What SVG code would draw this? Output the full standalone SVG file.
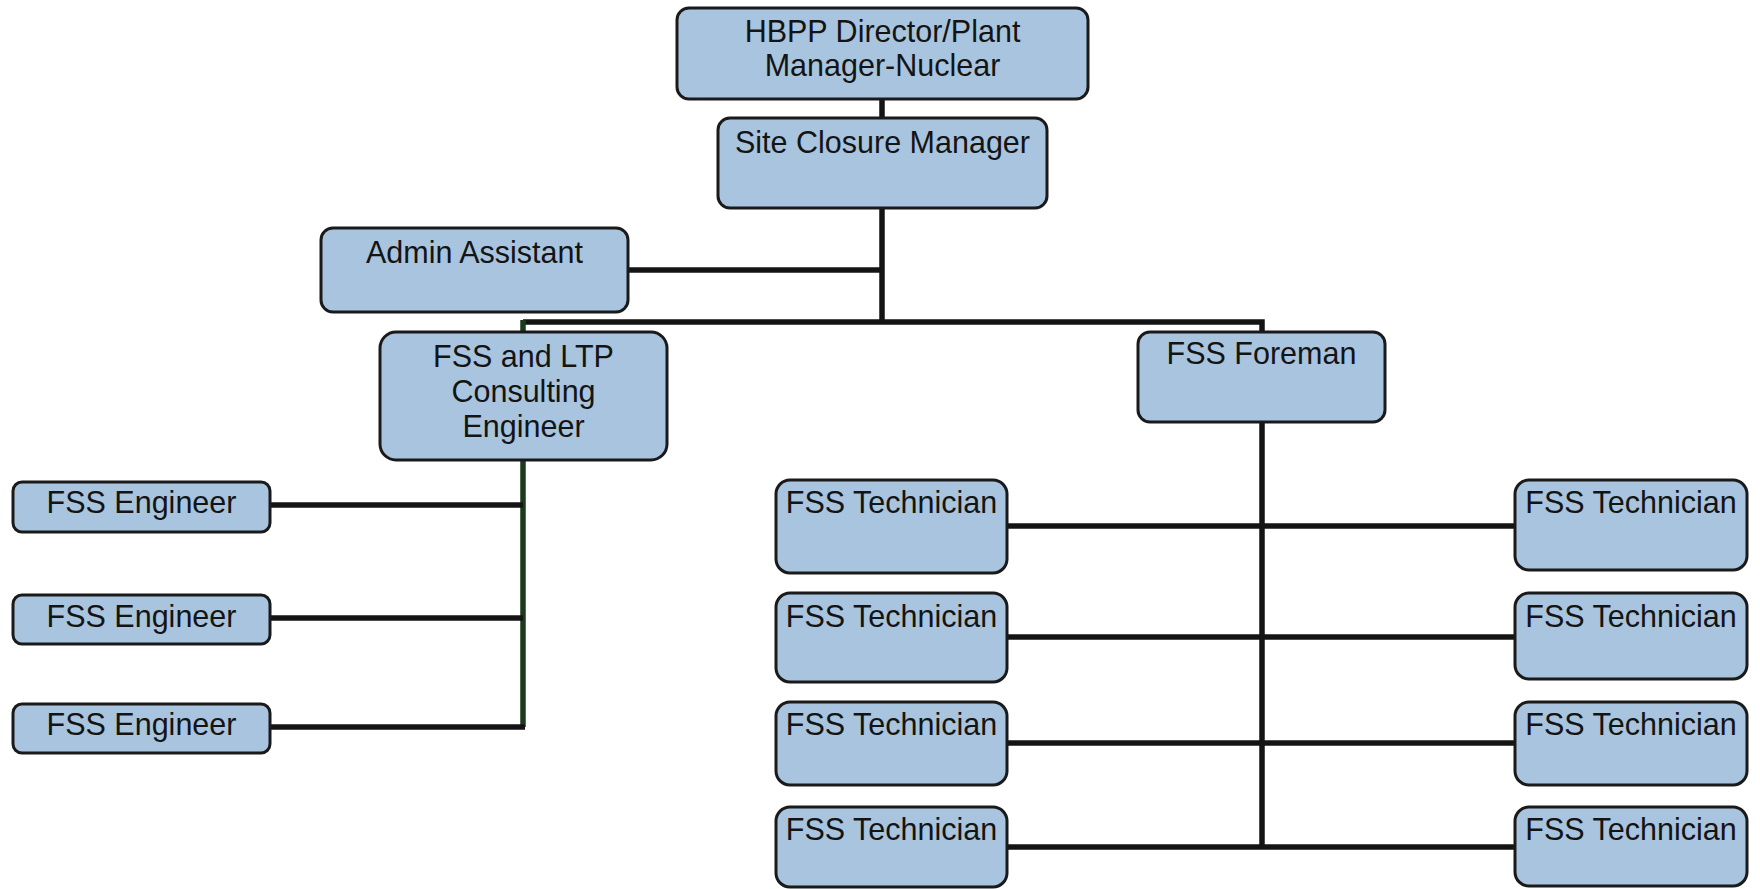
<svg xmlns="http://www.w3.org/2000/svg" width="1760" height="889" viewBox="0 0 1760 889">
<style>
.box{fill:#a8c4de;stroke:#1a1a1a;stroke-width:3}
.t{font-family:"Liberation Sans",Arial,sans-serif;font-size:30.5px;fill:#141414;text-anchor:middle}
.c{fill:none;stroke:#141414;stroke-width:5.5}
.g{fill:none;stroke:#1c3a1c;stroke-width:5.5}
</style>
<rect width="1760" height="889" fill="#ffffff"/>
<g id="connectors">
<line class="c" x1="882" y1="99" x2="882" y2="118"/>
<line class="c" x1="882" y1="208" x2="882" y2="322"/>
<line class="c" x1="628" y1="270" x2="882" y2="270"/>
<polyline class="c" points="523,322 1262,322 1262,332"/>
<line class="g" x1="523" y1="320" x2="523" y2="332"/>
<polyline class="g" points="523,460 523,727"/>
<line class="c" x1="270" y1="505" x2="523" y2="505"/>
<line class="c" x1="270" y1="618" x2="523" y2="618"/>
<line class="c" x1="270" y1="727" x2="525" y2="727"/>
<line class="c" x1="1262" y1="422" x2="1262" y2="849"/>
<line class="c" x1="1007" y1="526" x2="1515" y2="526"/>
<line class="c" x1="1007" y1="637" x2="1515" y2="637"/>
<line class="c" x1="1007" y1="743" x2="1515" y2="743"/>
<line class="c" x1="1007" y1="847" x2="1515" y2="847"/>
</g>
<g id="director"><rect class="box" x="677" y="8" width="411" height="91" rx="12"/><text class="t" x="882.5" y="42">HBPP Director/Plant</text><text class="t" x="882.5" y="76">Manager-Nuclear</text></g>
<g id="site-closure"><rect class="box" x="718" y="118" width="329" height="90" rx="12"/><text class="t" x="882.5" y="153">Site Closure Manager</text></g>
<g id="admin"><rect class="box" x="321" y="228" width="307" height="84" rx="12"/><text class="t" x="474.5" y="263">Admin Assistant</text></g>
<g id="fss-ltp"><rect class="box" x="380" y="332" width="287" height="128" rx="16"/><text class="t" x="523.5" y="367">FSS and LTP</text><text class="t" x="523.5" y="402">Consulting</text><text class="t" x="523.5" y="437">Engineer</text></g>
<g id="foreman"><rect class="box" x="1138" y="332" width="247" height="90" rx="12"/><text class="t" x="1261.5" y="364">FSS Foreman</text></g>
<g id="eng1"><rect class="box" x="13" y="482" width="257" height="50" rx="9"/><text class="t" x="141.5" y="513">FSS Engineer</text></g>
<g id="eng2"><rect class="box" x="13" y="595" width="257" height="49" rx="9"/><text class="t" x="141.5" y="627">FSS Engineer</text></g>
<g id="eng3"><rect class="box" x="13" y="704" width="257" height="49" rx="9"/><text class="t" x="141.5" y="735">FSS Engineer</text></g>
<g id="tech-l1"><rect class="box" x="776" y="480" width="231" height="93" rx="14"/><text class="t" x="891.5" y="513">FSS Technician</text></g>
<g id="tech-l2"><rect class="box" x="776" y="593" width="231" height="89" rx="14"/><text class="t" x="891.5" y="627">FSS Technician</text></g>
<g id="tech-l3"><rect class="box" x="776" y="702" width="231" height="83" rx="14"/><text class="t" x="891.5" y="735">FSS Technician</text></g>
<g id="tech-l4"><rect class="box" x="776" y="807" width="231" height="80" rx="14"/><text class="t" x="891.5" y="840">FSS Technician</text></g>
<g id="tech-r1"><rect class="box" x="1515" y="480" width="232" height="90" rx="14"/><text class="t" x="1631" y="513">FSS Technician</text></g>
<g id="tech-r2"><rect class="box" x="1515" y="593" width="232" height="86" rx="14"/><text class="t" x="1631" y="627">FSS Technician</text></g>
<g id="tech-r3"><rect class="box" x="1515" y="702" width="232" height="83" rx="14"/><text class="t" x="1631" y="735">FSS Technician</text></g>
<g id="tech-r4"><rect class="box" x="1515" y="807" width="232" height="79" rx="14"/><text class="t" x="1631" y="840">FSS Technician</text></g>
</svg>
